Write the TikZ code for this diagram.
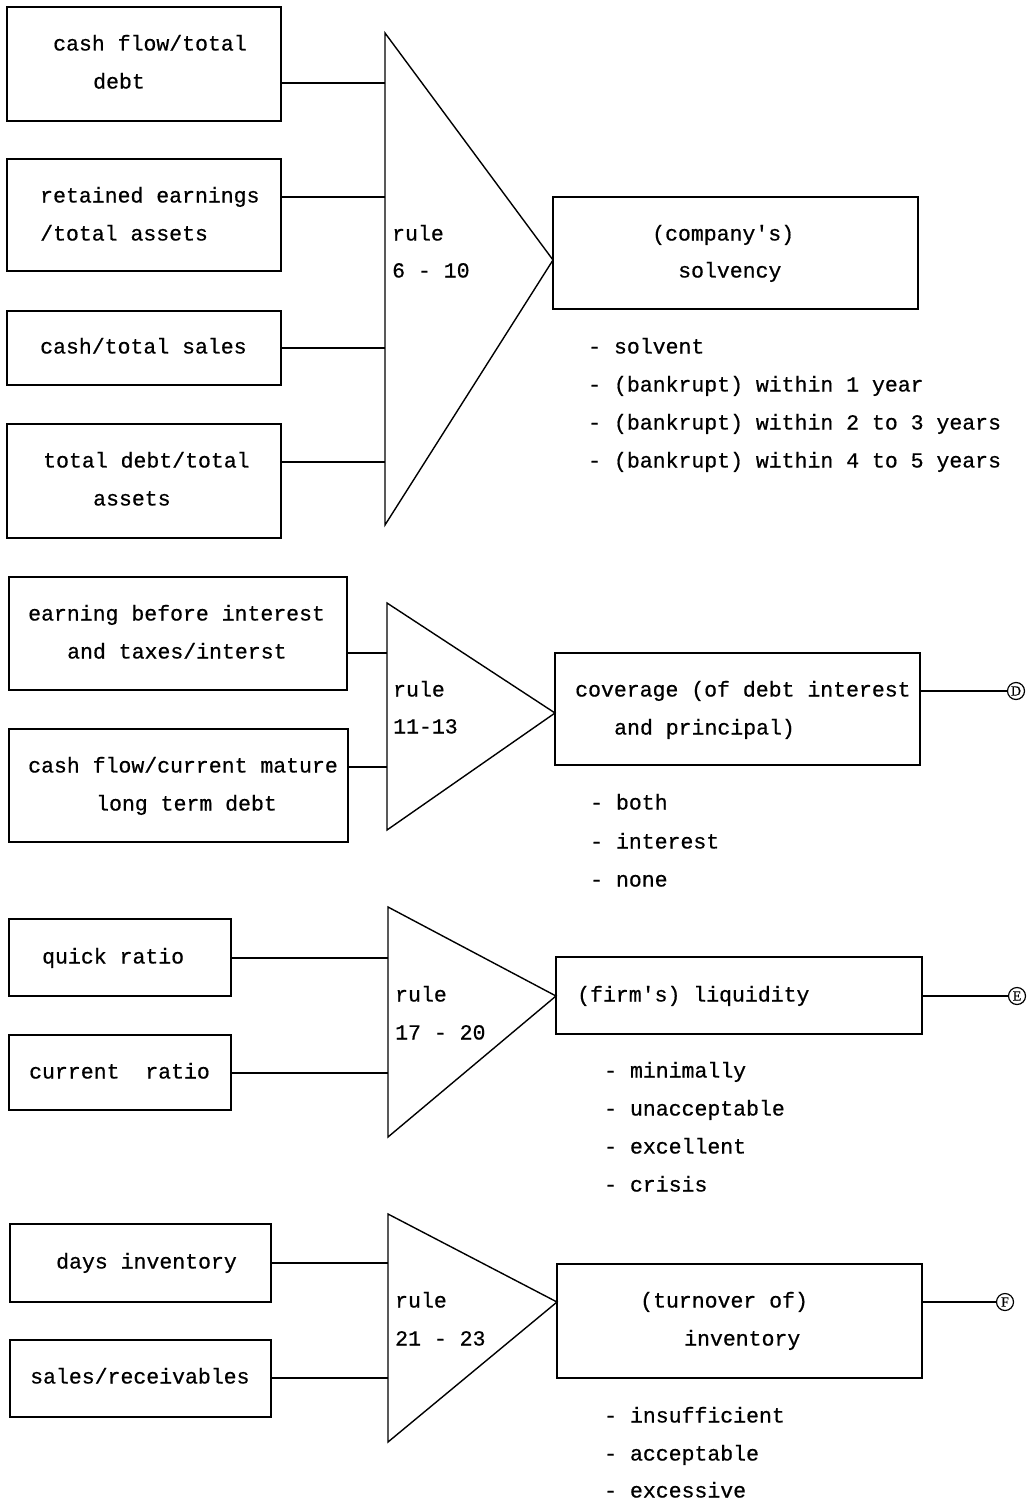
\documentclass[tikz,border=0pt]{standalone}
\usepackage{fontspec}
\setmainfont{Liberation Mono}[FakeBold=0.6]
\newfontfamily\circfont{Liberation Serif}[FakeBold=0.5]
\usetikzlibrary{fit}
\tikzset{
  box/.style={draw, line width=1.3pt, inner sep=0pt},
  tri/.style={draw, line width=1.4pt, line join=miter},
  conn/.style={draw, line width=1.3pt},
  txt/.style={anchor=west, inner sep=0pt, text height=15pt, text depth=4pt, font=\fontsize{21.5}{38}\selectfont},
  circ/.style={draw, circle, line width=1.2pt, inner sep=0pt, minimum size=17pt, font=\circfont\fontsize{14}{14}\selectfont}
}
\begin{document}
\begin{tikzpicture}[x=1pt, y=-1pt]
\useasboundingbox (0,0) rectangle (1033,1504);
\fill[white] (0,0) rectangle (1033,1504);

% ---------- section 1 ----------
\node[box, fit={(7,7)(281,121)}] (b1) {};
\node[box, fit={(7,159)(281,271)}] (b2) {};
\node[box, fit={(7,311)(281,385)}] (b3) {};
\node[box, fit={(7,424)(281,538)}] (b4) {};
\node[txt] (b1t1) at (53,45) {cash flow/total};
\node[txt] (b1t2) at (93,83) {debt};
\node[txt] (b2t1) at (40,197) {retained earnings};
\node[txt] (b2t2) at (40,235) {/total assets};
\node[txt] (b3t1) at (40,348) {cash/total sales};
\node[txt] (b4t1) at (43,462) {total debt/total};
\node[txt] (b4t2) at (93,500) {assets};

\coordinate (t1a) at (385,33);
\coordinate (t1b) at (385,525);
\coordinate (t1p) at (553,260);
\draw[tri] (t1a) -- (t1p) -- (t1b) -- cycle;
\node[txt] (r1a) at (392,235) {rule};
\node[txt] (r1b) at (392,272) {6 - 10};
\coordinate (c1) at (385,83);
\coordinate (c2) at (385,197);
\coordinate (c3) at (385,348);
\coordinate (c4) at (385,462);
\draw[conn] (b1.east |- c1) -- (c1);
\draw[conn] (b2.east |- c2) -- (c2);
\draw[conn] (b3.east |- c3) -- (c3);
\draw[conn] (b4.east |- c4) -- (c4);

\node[box, fit={(553,197)(918,309)}] (o1) {};
\node[txt] (o1t1) at (652,235) {(company\textquotesingle s)};
\node[txt] (o1t2) at (678,272) {solvency};
\node[txt] (l1a) at (588,348) {- solvent};
\node[txt] (l1b) at (588,386) {- (bankrupt) within 1 year};
\node[txt] (l1c) at (588,424) {- (bankrupt) within 2 to 3 years};
\node[txt] (l1d) at (588,462) {- (bankrupt) within 4 to 5 years};

% ---------- section 2 ----------
\node[box, fit={(9,577)(347,690)}] (b5) {};
\node[box, fit={(9,729)(348,842)}] (b6) {};
\node[txt] (b5t1) at (28,615) {earning before interest};
\node[txt] (b5t2) at (67,653) {and taxes/interst};
\node[txt] (b6t1) at (28,767) {cash flow/current mature};
\node[txt] (b6t2) at (96,805) {long term debt};

\coordinate (t2a) at (387,603);
\coordinate (t2b) at (387,830);
\coordinate (t2p) at (555,713);
\draw[tri] (t2a) -- (t2p) -- (t2b) -- cycle;
\node[txt] (r2a) at (393,691) {rule};
\node[txt] (r2b) at (393,728) {11-13};
\coordinate (c5) at (387,653);
\coordinate (c6) at (387,767);
\draw[conn] (b5.east |- c5) -- (c5);
\draw[conn] (b6.east |- c6) -- (c6);

\node[box, fit={(555,653)(920,765)}] (o2) {};
\node[txt] (o2t1) at (575,691) {coverage (of debt interest};
\node[txt] (o2t2) at (614,729) {and principal)};
\node[circ] (D) at (1016,691) {D};
\draw[conn] (o2.east |- D) -- (D);
\node[txt] (l2a) at (590,804) {- both};
\node[txt] (l2b) at (590,843) {- interest};
\node[txt] (l2c) at (590,881) {- none};

% ---------- section 3 ----------
\node[box, fit={(9,919)(231,996)}] (b7) {};
\node[box, fit={(9,1035)(231,1110)}] (b8) {};
\node[txt] (b7t1) at (42,958) {quick ratio};
\node[txt] (b8t1) at (29,1073) {current\ \ ratio};

\coordinate (t3a) at (388,907);
\coordinate (t3b) at (388,1137);
\coordinate (t3p) at (556,996);
\draw[tri] (t3a) -- (t3p) -- (t3b) -- cycle;
\node[txt] (r3a) at (395,996) {rule};
\node[txt] (r3b) at (395,1034) {17 - 20};
\coordinate (c7) at (388,958);
\coordinate (c8) at (388,1073);
\draw[conn] (b7.east |- c7) -- (c7);
\draw[conn] (b8.east |- c8) -- (c8);

\node[box, fit={(556,957)(922,1034)}] (o3) {};
\node[txt] (o3t1) at (577,996) {(firm\textquotesingle s) liquidity};
\node[circ] (E) at (1017,996) {E};
\draw[conn] (o3.east |- E) -- (E);
\node[txt] (l3a) at (604,1072) {- minimally};
\node[txt] (l3b) at (604,1110) {- unacceptable};
\node[txt] (l3c) at (604,1148) {- excellent};
\node[txt] (l3d) at (604,1186) {- crisis};

% ---------- section 4 ----------
\node[box, fit={(10,1224)(271,1302)}] (b9) {};
\node[box, fit={(10,1340)(271,1417)}] (b10) {};
\node[txt] (b9t1) at (56,1263) {days inventory};
\node[txt] (b10t1) at (30,1378) {sales/receivables};

\coordinate (t4a) at (388,1214);
\coordinate (t4b) at (388,1442);
\coordinate (t4p) at (557,1302);
\draw[tri] (t4a) -- (t4p) -- (t4b) -- cycle;
\node[txt] (r4a) at (395,1302) {rule};
\node[txt] (r4b) at (395,1340) {21 - 23};
\coordinate (c9) at (388,1263);
\coordinate (c10) at (388,1378);
\draw[conn] (b9.east |- c9) -- (c9);
\draw[conn] (b10.east |- c10) -- (c10);

\node[box, fit={(557,1264)(922,1378)}] (o4) {};
\node[txt] (o4t1) at (640,1302) {(turnover of)};
\node[txt] (o4t2) at (684,1340) {inventory};
\node[circ] (F) at (1005,1302) {F};
\draw[conn] (o4.east |- F) -- (F);
\node[txt] (l4a) at (604,1417) {- insufficient};
\node[txt] (l4b) at (604,1455) {- acceptable};
\node[txt] (l4c) at (604,1492) {- excessive};
\end{tikzpicture}
\end{document}
